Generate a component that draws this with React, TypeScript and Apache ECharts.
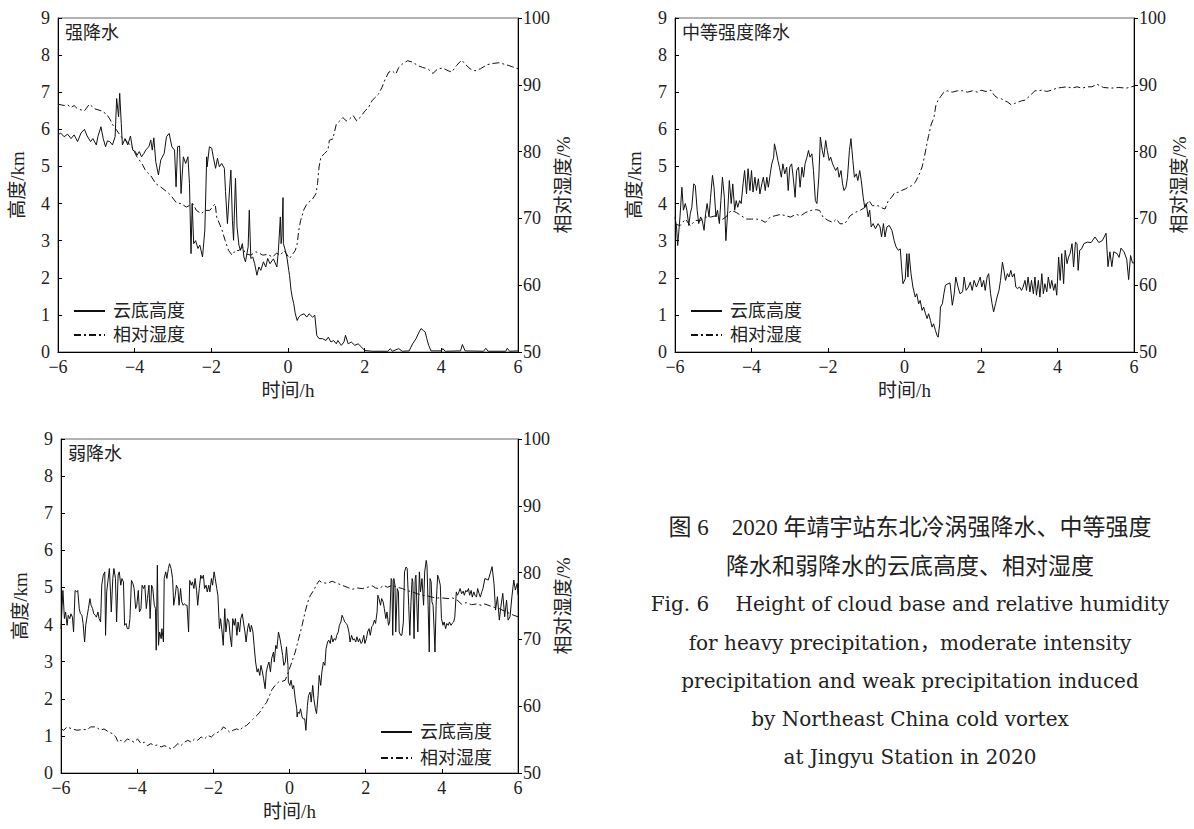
import React, { useEffect, useRef } from "react";
import * as echarts from "echarts";

// ---------- data (time in hours, value) ----------
const heavyCloud: number[][] = [
  [-6.0,5.85],[-5.93,5.9],[-5.84,5.8],[-5.75,5.87],[-5.66,5.75],[-5.58,5.85],[-5.49,5.67],[-5.40,5.9],[-5.31,6.0],[-5.24,5.82],[-5.15,5.67],[-5.09,5.75],[-5.0,5.58],[-4.96,5.8],[-4.88,6.07],[-4.82,5.75],[-4.76,5.53],[-4.71,5.69],[-4.65,5.67],[-4.58,5.58],[-4.51,5.8],[-4.47,6.83],[-4.42,6.34],[-4.39,6.97],[-4.35,6.16],[-4.32,5.58],[-4.25,5.75],[-4.18,5.58],[-4.11,5.82],[-4.05,5.44],[-3.98,5.4],[-3.94,5.3],[-3.88,5.4],[-3.82,5.26],[-3.76,5.35],[-3.70,5.46],[-3.63,5.53],[-3.58,5.71],[-3.54,5.44],[-3.50,5.77],[-3.45,5.13],[-3.38,4.77],[-3.32,5.17],[-3.23,5.35],[-3.17,5.8],[-3.10,5.89],[-3.03,5.53],[-2.96,5.44],[-2.92,4.45],[-2.88,5.53],[-2.83,5.55],[-2.79,4.27],[-2.73,5.26],[-2.67,5.08],[-2.61,5.26],[-2.57,4.54],[-2.53,2.65],[-2.50,4.0],[-2.46,2.92],[-2.41,3.0],[-2.35,2.79],[-2.30,2.88],[-2.23,2.56],[-2.17,3.28],[-2.12,5.26],[-2.11,4.99],[-2.05,5.53],[-1.99,5.49],[-1.95,5.26],[-1.89,4.95],[-1.84,5.22],[-1.79,4.99],[-1.73,5.08],[-1.66,4.95],[-1.63,4.32],[-1.58,3.46],[-1.52,4.45],[-1.49,4.9],[-1.45,3.55],[-1.42,3.01],[-1.37,4.68],[-1.33,3.37],[-1.28,2.88],[-1.24,2.74],[-1.19,2.92],[-1.15,2.56],[-1.11,2.43],[-1.04,2.83],[-1.01,3.82],[-0.97,2.52],[-0.92,2.56],[-0.87,2.38],[-0.81,2.07],[-0.76,2.29],[-0.71,2.2],[-0.64,2.43],[-0.58,2.29],[-0.53,2.52],[-0.47,2.38],[-0.38,2.51],[-0.29,2.29],[-0.25,2.74],[-0.2,3.64],[-0.18,2.92],[-0.16,3.1],[-0.13,4.16],[-0.12,2.92],[-0.07,2.74],[-0.03,2.56],[0.02,2.2],[0.04,2.06],[0.08,1.66],[0.11,1.48],[0.15,1.3],[0.19,1.03],[0.24,0.85],[0.28,0.94],[0.33,0.99],[0.42,1.03],[0.49,0.94],[0.55,1.03],[0.64,0.94],[0.70,0.99],[0.75,0.45],[0.81,0.36],[0.9,0.36],[0.99,0.31],[1.05,0.40],[1.12,0.27],[1.19,0.31],[1.26,0.22],[1.3,0.31],[1.39,0.18],[1.46,0.27],[1.5,0.45],[1.57,0.22],[1.65,0.27],[1.74,0.18],[1.83,0.22],[1.92,0.13],[2.0,0.04],[2.2,0.02],[2.4,0.02],[2.6,0.02],[2.67,0.09],[2.72,0.02],[2.89,0.09],[2.98,0.02],[3.16,0.03],[3.25,0.22],[3.34,0.36],[3.42,0.54],[3.47,0.63],[3.53,0.58],[3.58,0.54],[3.62,0.36],[3.67,0.18],[3.73,0.03],[4.0,0.03],[4.04,0.09],[4.1,0.02],[4.5,0.03],[4.55,0.2],[4.62,0.03],[5.1,0.02],[5.16,0.1],[5.22,0.02],[5.68,0.02],[5.72,0.1],[5.78,0.02],[6.0,0.03]
];
const heavyRH: number[][] = [
  [-6.0,87.1],[-5.84,86.9],[-5.75,87.0],[-5.66,86.6],[-5.58,86.9],[-5.49,86.4],[-5.31,86.1],[-5.18,87.1],[-5.04,86.4],[-4.87,86.1],[-4.73,85.6],[-4.65,84.9],[-4.56,83.9],[-4.47,83.2],[-4.35,82.2],[-4.2,81.5],[-4.07,80.7],[-3.94,79.2],[-3.81,78.2],[-3.72,77.2],[-3.58,76.4],[-3.45,75.2],[-3.32,74.7],[-3.14,73.9],[-3.05,73.4],[-2.92,72.4],[-2.79,72.2],[-2.65,71.7],[-2.48,72.2],[-2.39,71.2],[-2.26,70.7],[-2.17,71.2],[-2.04,71.2],[-1.9,72.2],[-1.86,70.2],[-1.73,68.4],[-1.64,66.7],[-1.55,65.2],[-1.46,64.5],[-1.37,65.2],[-1.28,65.2],[-1.19,65.7],[-1.11,64.7],[-0.97,64.5],[-0.84,65.0],[-0.75,64.8],[-0.66,64.5],[-0.53,64.6],[-0.4,64.2],[-0.3,64.8],[-0.2,64.5],[-0.1,65.2],[0.04,64.0],[0.19,65.2],[0.24,66.2],[0.28,68.2],[0.33,69.7],[0.42,71.4],[0.5,72.2],[0.64,72.9],[0.73,73.7],[0.77,75.2],[0.81,77.7],[0.86,79.2],[0.95,79.7],[1.04,80.2],[1.08,81.7],[1.17,81.9],[1.26,84.1],[1.35,84.6],[1.43,85.1],[1.52,84.6],[1.61,84.9],[1.70,85.4],[1.79,84.6],[1.88,85.1],[2.01,86.1],[2.1,86.6],[2.19,87.6],[2.27,88.1],[2.36,88.6],[2.45,89.6],[2.54,90.9],[2.63,91.9],[2.72,92.1],[2.81,91.6],[2.89,92.6],[2.98,93.1],[3.12,93.6],[3.25,93.4],[3.38,92.9],[3.51,92.6],[3.65,92.4],[3.78,91.7],[3.91,92.4],[4.04,92.5],[4.18,92.1],[4.27,91.9],[4.4,92.9],[4.53,93.7],[4.62,93.1],[4.75,92.4],[4.88,92.1],[5.02,92.4],[5.19,93.0],[5.35,93.2],[5.5,93.3],[5.7,93.0],[5.85,92.7],[6.0,92.4]
];
const moderateCloud: number[][] = [
  [-6.0,3.64],[-5.96,3.37],[-5.93,2.87],[-5.87,3.64],[-5.82,4.44],[-5.78,3.82],[-5.73,4.0],[-5.69,3.82],[-5.64,3.41],[-5.60,3.73],[-5.56,3.9],[-5.51,4.53],[-5.47,4.49],[-5.42,3.82],[-5.38,3.46],[-5.33,3.64],[-5.29,3.55],[-5.24,3.28],[-5.20,3.73],[-5.16,4.0],[-5.11,3.64],[-5.07,4.17],[-5.02,4.76],[-4.98,4.44],[-4.93,3.64],[-4.89,3.82],[-4.84,3.46],[-4.80,4.08],[-4.76,4.71],[-4.71,4.17],[-4.67,3.0],[-4.62,3.82],[-4.58,4.62],[-4.53,4.0],[-4.49,4.53],[-4.44,3.82],[-4.40,4.08],[-4.36,3.9],[-4.31,4.08],[-4.27,4.0],[-4.22,4.53],[-4.18,4.89],[-4.13,4.26],[-4.09,4.94],[-4.04,4.35],[-4.0,4.89],[-3.96,4.31],[-3.91,4.71],[-3.87,4.35],[-3.82,4.67],[-3.78,4.26],[-3.73,4.53],[-3.69,4.71],[-3.64,4.35],[-3.60,4.71],[-3.56,4.44],[-3.51,4.8],[-3.47,5.07],[-3.42,5.25],[-3.40,5.61],[-3.36,5.43],[-3.31,5.16],[-3.27,4.98],[-3.22,4.71],[-3.18,5.07],[-3.13,4.8],[-3.08,4.98],[-3.04,4.35],[-3.0,4.98],[-2.95,5.07],[-2.91,4.71],[-2.86,4.17],[-2.82,4.89],[-2.77,4.98],[-2.73,4.44],[-2.68,4.98],[-2.64,4.71],[-2.60,5.07],[-2.55,5.25],[-2.51,5.43],[-2.47,5.25],[-2.42,5.34],[-2.38,4.89],[-2.33,4.08],[-2.29,4.0],[-2.24,4.71],[-2.20,5.79],[-2.15,5.43],[-2.11,5.25],[-2.06,5.7],[-2.02,5.43],[-1.97,5.16],[-1.93,5.25],[-1.88,5.07],[-1.84,4.98],[-1.80,4.89],[-1.75,4.98],[-1.71,4.71],[-1.66,4.89],[-1.62,4.53],[-1.58,4.35],[-1.53,4.44],[-1.49,4.71],[-1.44,5.43],[-1.40,5.75],[-1.35,5.16],[-1.31,4.71],[-1.26,4.8],[-1.22,4.62],[-1.17,4.89],[-1.13,4.62],[-1.08,4.17],[-1.04,3.9],[-1.0,4.0],[-0.95,3.64],[-0.91,3.82],[-0.87,3.37],[-0.82,3.46],[-0.76,3.32],[-0.69,3.46],[-0.64,3.37],[-0.6,3.1],[-0.55,3.46],[-0.51,3.1],[-0.46,3.37],[-0.4,3.41],[-0.33,3.28],[-0.27,3.0],[-0.22,2.83],[-0.16,2.74],[-0.11,2.78],[-0.07,2.2],[-0.04,1.84],[0.02,1.97],[0.06,2.65],[0.09,2.02],[0.12,2.65],[0.17,2.11],[0.22,1.75],[0.28,1.48],[0.32,1.57],[0.37,1.3],[0.41,1.39],[0.46,1.12],[0.5,1.21],[0.55,1.03],[0.59,0.9],[0.63,1.03],[0.68,0.85],[0.72,0.67],[0.76,0.76],[0.81,0.58],[0.85,0.45],[0.88,0.4],[0.92,0.76],[0.94,1.21],[0.99,1.3],[1.03,1.57],[1.07,1.8],[1.14,1.84],[1.19,1.86],[1.25,1.26],[1.3,1.57],[1.34,2.02],[1.4,1.75],[1.45,1.57],[1.52,1.62],[1.56,2.02],[1.61,1.66],[1.67,1.75],[1.72,1.88],[1.77,1.66],[1.82,1.93],[1.88,1.75],[1.93,1.88],[1.98,2.02],[2.02,1.75],[2.07,1.93],[2.11,1.66],[2.16,2.02],[2.2,2.11],[2.25,1.57],[2.29,1.3],[2.33,1.08],[2.38,1.3],[2.42,1.48],[2.47,1.66],[2.51,1.93],[2.56,2.42],[2.6,2.2],[2.64,1.93],[2.69,2.11],[2.73,2.02],[2.78,2.2],[2.82,2.02],[2.87,2.11],[2.91,1.75],[2.95,1.71],[3.01,1.75],[3.06,1.66],[3.1,1.75],[3.15,1.93],[3.19,1.66],[3.23,2.02],[3.28,1.62],[3.32,1.93],[3.37,1.57],[3.41,2.02],[3.45,1.53],[3.5,1.93],[3.54,1.48],[3.59,2.11],[3.63,1.57],[3.67,1.84],[3.72,1.62],[3.76,2.02],[3.81,1.71],[3.85,1.93],[3.9,1.66],[3.94,1.84],[3.98,1.53],[4.03,2.56],[4.07,1.93],[4.11,2.65],[4.16,1.84],[4.2,2.74],[4.25,2.38],[4.29,2.56],[4.33,2.65],[4.38,2.92],[4.42,2.29],[4.47,2.96],[4.51,2.92],[4.54,2.2],[4.58,2.74],[4.63,2.78],[4.69,2.92],[4.78,2.96],[4.88,2.95],[4.98,3.1],[5.08,2.95],[5.17,3.0],[5.27,3.2],[5.32,2.3],[5.37,2.7],[5.42,2.3],[5.47,2.7],[5.56,2.65],[5.61,2.55],[5.66,2.8],[5.74,2.7],[5.81,2.5],[5.86,1.95],[5.91,2.6],[5.96,2.4],[6.0,2.4]
];
const moderateRH: number[][] = [
  [-6.0,69.2],[-5.87,68.9],[-5.73,69.9],[-5.6,68.9],[-5.47,69.7],[-5.33,69.7],[-5.2,70.2],[-5.07,70.2],[-4.93,70.4],[-4.8,69.7],[-4.67,70.2],[-4.53,71.2],[-4.4,70.9],[-4.27,70.4],[-4.13,69.9],[-4.0,69.9],[-3.87,69.9],[-3.73,69.7],[-3.64,69.4],[-3.51,70.2],[-3.38,70.4],[-3.24,70.6],[-3.11,70.4],[-2.98,70.2],[-2.84,70.6],[-2.71,70.4],[-2.58,70.9],[-2.44,71.2],[-2.31,71.3],[-2.22,71.2],[-2.13,70.2],[-2.0,69.7],[-1.87,69.4],[-1.78,69.9],[-1.69,69.2],[-1.56,69.2],[-1.42,70.4],[-1.29,70.9],[-1.16,71.2],[-1.02,71.7],[-0.93,72.7],[-0.84,71.9],[-0.69,71.9],[-0.6,71.6],[-0.51,71.4],[-0.42,72.7],[-0.33,73.2],[-0.25,73.9],[-0.16,73.9],[-0.07,74.2],[0.02,74.4],[0.11,74.7],[0.19,74.9],[0.28,75.4],[0.37,76.4],[0.46,77.7],[0.52,79.2],[0.57,80.7],[0.63,82.4],[0.7,84.1],[0.77,85.1],[0.82,86.9],[0.87,87.6],[0.94,88.2],[1.03,88.9],[1.12,89.1],[1.25,88.9],[1.38,89.1],[1.52,89.1],[1.65,88.9],[1.78,89.1],[1.91,88.9],[2.0,89.2],[2.13,89.0],[2.26,89.2],[2.35,88.4],[2.44,88.0],[2.53,87.9],[2.62,87.6],[2.7,87.4],[2.79,87.0],[2.88,87.2],[2.97,87.4],[3.06,87.6],[3.15,87.7],[3.23,88.1],[3.32,88.6],[3.41,89.1],[3.5,89.1],[3.59,89.2],[3.72,89.0],[3.85,89.2],[3.98,89.5],[4.11,89.6],[4.25,89.7],[4.38,89.5],[4.51,89.7],[4.64,89.5],[4.78,89.7],[4.9,89.7],[5.03,90.1],[5.2,89.6],[5.4,89.5],[5.6,89.6],[5.8,89.5],[6.0,89.8]
];
const weakCloud: number[][] = [
  [-6,3.89],[-5.97,4.52],[-5.95,4.92],[-5.91,4.16],[-5.88,4.34],[-5.84,3.98],[-5.81,4.25],[-5.77,4.16],[-5.74,4.29],[-5.7,4.2],[-5.67,3.8],[-5.63,4.92],[-5.59,4.88],[-5.56,4.92],[-5.52,4.43],[-5.49,4.29],[-5.45,4.25],[-5.42,4.03],[-5.38,3.53],[-5.35,3.98],[-5.31,4.25],[-5.28,4.43],[-5.24,4.7],[-5.21,4.52],[-5.17,4.43],[-5.14,4.29],[-5.10,4.25],[-5.07,4.2],[-5.03,4.34],[-5.0,4.16],[-4.96,4.07],[-4.93,5.06],[-4.89,5.33],[-4.85,5.42],[-4.83,3.71],[-4.80,4.88],[-4.77,5.15],[-4.73,5.51],[-4.70,4.88],[-4.68,4.34],[-4.64,5.24],[-4.61,5.51],[-4.57,5.24],[-4.54,4.07],[-4.50,5.33],[-4.47,5.42],[-4.43,5.06],[-4.40,5.24],[-4.36,5.15],[-4.33,3.98],[-4.29,4.03],[-4.26,3.89],[-4.22,3.89],[-4.19,4.16],[-4.15,5.19],[-4.11,5.1],[-4.08,4.97],[-4.04,4.43],[-4.01,4.52],[-3.97,4.92],[-3.94,4.34],[-3.90,4.43],[-3.87,5.06],[-3.83,4.97],[-3.80,5.06],[-3.76,4.43],[-3.73,4.7],[-3.69,5.06],[-3.66,4.16],[-3.62,5.06],[-3.59,4.97],[-3.55,4.52],[-3.52,4.43],[-3.50,3.31],[-3.47,5.6],[-3.44,3.44],[-3.41,3.8],[-3.37,3.62],[-3.35,3.89],[-3.31,3.53],[-3.29,5.24],[-3.25,5.42],[-3.22,5.24],[-3.18,5.51],[-3.15,5.64],[-3.11,5.51],[-3.07,5.24],[-3.04,4.52],[-3.0,4.79],[-2.97,5.06],[-2.93,4.97],[-2.90,4.52],[-2.86,4.97],[-2.83,4.61],[-2.79,4.52],[-2.76,4.56],[-2.72,4.52],[-2.69,4.52],[-2.65,3.8],[-2.62,5.19],[-2.58,5.06],[-2.55,5.15],[-2.51,4.97],[-2.48,5.24],[-2.44,4.92],[-2.41,4.52],[-2.37,4.97],[-2.33,5.33],[-2.30,5.24],[-2.26,5.33],[-2.23,4.97],[-2.19,5.06],[-2.16,4.88],[-2.12,5.06],[-2.09,4.88],[-2.05,5.24],[-2.02,5.06],[-1.98,5.42],[-1.95,5.24],[-1.91,4.97],[-1.88,4.79],[-1.84,3.89],[-1.81,4.16],[-1.77,3.8],[-1.74,3.44],[-1.70,4.43],[-1.67,3.8],[-1.63,4.16],[-1.59,4.07],[-1.56,3.71],[-1.52,3.4],[-1.49,4.16],[-1.45,3.98],[-1.42,4.16],[-1.38,3.71],[-1.35,4.07],[-1.31,3.8],[-1.28,4.16],[-1.24,4.29],[-1.21,4.07],[-1.17,3.8],[-1.14,3.53],[-1.10,3.89],[-1.07,4.03],[-1.03,3.8],[-1.0,3.98],[-0.96,3.8],[-0.93,3.44],[-0.89,2.99],[-0.85,2.72],[-0.82,2.81],[-0.78,2.63],[-0.75,2.9],[-0.71,2.72],[-0.68,2.54],[-0.64,2.27],[-0.61,2.72],[-0.57,2.9],[-0.54,2.99],[-0.5,2.72],[-0.47,3.08],[-0.42,3.26],[-0.4,2.99],[-0.36,3.44],[-0.33,3.35],[-0.29,3.8],[-0.25,3.62],[-0.22,3.44],[-0.18,3.17],[-0.15,2.9],[-0.11,2.99],[-0.08,3.4],[-0.04,2.9],[-0.03,2.45],[0.01,2.36],[0.04,2.5],[0.08,2.27],[0.11,2.36],[0.15,2.0],[0.19,1.73],[0.2,1.51],[0.22,1.64],[0.26,1.6],[0.29,1.73],[0.33,1.51],[0.36,1.46],[0.40,1.46],[0.43,1.15],[0.47,1.82],[0.5,2.09],[0.54,2.18],[0.57,1.91],[0.61,2.36],[0.64,2.0],[0.68,1.73],[0.71,1.6],[0.75,2.09],[0.78,2.63],[0.82,2.36],[0.85,2.72],[0.89,2.99],[0.93,2.9],[0.96,3.35],[1.0,3.53],[1.03,3.58],[1.07,3.49],[1.1,3.71],[1.14,3.53],[1.17,3.62],[1.21,3.58],[1.24,3.71],[1.28,3.8],[1.31,3.98],[1.35,4.07],[1.38,4.25],[1.42,4.16],[1.45,4.07],[1.49,4.03],[1.52,3.98],[1.56,3.8],[1.59,3.53],[1.63,3.71],[1.67,3.58],[1.7,3.62],[1.74,3.53],[1.77,3.67],[1.81,3.53],[1.84,3.62],[1.88,3.49],[1.91,3.53],[1.95,3.71],[1.98,3.49],[2.02,3.62],[2.05,3.8],[2.09,3.89],[2.12,3.71],[2.16,3.94],[2.19,3.98],[2.23,4.12],[2.26,4.03],[2.3,4.34],[2.32,4.79],[2.35,4.7],[2.39,4.52],[2.42,4.7],[2.46,4.61],[2.49,4.43],[2.53,4.16],[2.56,4.34],[2.6,3.98],[2.63,4.07],[2.67,5.24],[2.69,5.19],[2.71,3.71],[2.74,5.24],[2.77,5.06],[2.79,3.8],[2.83,4.97],[2.86,4.88],[2.88,3.8],[2.92,3.71],[2.95,3.71],[2.99,4.07],[3.02,5.42],[3.06,5.55],[3.09,5.51],[3.13,4.52],[3.16,3.71],[3.19,4.61],[3.22,5.24],[3.24,5.15],[3.27,3.62],[3.3,5.24],[3.32,5.33],[3.35,4.34],[3.37,3.8],[3.41,5.42],[3.44,4.88],[3.48,5.24],[3.52,4.52],[3.55,5.42],[3.59,5.73],[3.61,5.6],[3.64,4.52],[3.67,3.26],[3.69,5.24],[3.72,5.15],[3.74,4.61],[3.77,4.52],[3.8,3.8],[3.82,3.26],[3.85,4.52],[3.89,5.33],[3.92,5.24],[3.96,5.06],[3.99,4.16],[4.03,3.98],[4.06,4.07],[4.1,3.89],[4.13,4.03],[4.17,3.98],[4.2,4.07],[4.24,3.98],[4.27,4.03],[4.31,4.07],[4.34,4.2],[4.38,4.88],[4.41,4.79],[4.45,4.88],[4.48,4.97],[4.52,4.83],[4.56,4.9],[4.59,4.79],[4.63,4.92],[4.66,4.88],[4.7,4.97],[4.73,4.79],[4.77,4.92],[4.8,4.74],[4.84,4.88],[4.87,4.79],[4.91,4.74],[4.94,4.97],[4.98,4.83],[5.01,4.74],[5.05,4.88],[5.08,4.97],[5.13,5.24],[5.22,5.2],[5.32,5.56],[5.37,5.1],[5.41,4.39],[5.46,4.75],[5.51,4.12],[5.55,4.48],[5.6,4.84],[5.65,4.21],[5.7,4.66],[5.74,4.12],[5.79,4.21],[5.84,4.75],[5.89,5.2],[5.93,4.93],[5.98,5.11],[6.0,4.8]
];
const weakRH: number[][] = [
  [-6,56.6],[-5.93,56.4],[-5.84,56.9],[-5.71,56.6],[-5.58,56.4],[-5.44,56.5],[-5.31,56.5],[-5.22,56.9],[-5.09,56.9],[-4.96,56.4],[-4.87,56.6],[-4.74,56.1],[-4.65,55.9],[-4.56,55.4],[-4.5,54.6],[-4.43,54.9],[-4.34,54.6],[-4.26,55.1],[-4.17,54.9],[-4.08,54.6],[-3.99,55.1],[-3.9,54.4],[-3.81,54.6],[-3.73,54.1],[-3.64,54.4],[-3.55,54.1],[-3.46,54.2],[-3.37,53.9],[-3.29,54.1],[-3.2,53.9],[-3.11,53.6],[-3.02,53.9],[-2.93,54.4],[-2.85,54.1],[-2.76,54.6],[-2.67,54.9],[-2.58,54.6],[-2.49,55.1],[-2.41,54.9],[-2.32,55.4],[-2.23,55.1],[-2.14,55.6],[-2.05,55.4],[-1.96,55.9],[-1.88,56.1],[-1.79,56.4],[-1.74,56.9],[-1.66,56.6],[-1.57,56.1],[-1.48,56.4],[-1.39,56.6],[-1.3,56.4],[-1.22,56.9],[-1.13,57.1],[-1.04,57.6],[-0.95,58.1],[-0.86,58.6],[-0.78,59.1],[-0.69,59.9],[-0.6,60.6],[-0.51,61.8],[-0.47,62.4],[-0.38,63.1],[-0.29,63.6],[-0.2,63.7],[-0.11,63.9],[-0.03,65.1],[0.06,66.6],[0.15,68.1],[0.24,70.1],[0.33,72.1],[0.41,74.1],[0.48,75.6],[0.55,76.6],[0.63,77.3],[0.72,78.3],[0.78,78.8],[0.85,78.5],[0.99,78.4],[1.12,78.7],[1.25,78.4],[1.38,78.1],[1.52,77.8],[1.65,77.5],[1.78,77.7],[1.91,77.6],[2.04,77.8],[2.18,78.0],[2.26,77.7],[2.35,77.6],[2.48,78.1],[2.57,77.8],[2.7,78.1],[2.84,77.8],[2.97,77.6],[3.1,77.3],[3.23,77.1],[3.37,76.8],[3.5,76.6],[3.63,76.5],[3.76,76.3],[3.89,76.2],[4.03,76.2],[4.16,76.1],[4.29,76.2],[4.42,75.8],[4.51,75.3],[4.64,75.5],[4.78,75.2],[4.91,75.3],[5.04,75.1],[5.13,75.3],[5.32,74.9],[5.51,74.6],[5.7,74.1],[5.89,73.6],[6.0,73.4]
];

const panelTitles = ["强降水", "中等强度降水", "弱降水"];
const seriesNames = ["云底高度", "相对湿度"];
const xAxisName = "时间/h";
const leftAxisName = "高度/km";
const rightAxisName = "相对湿度/%";
const captionLines = [
  "图 6　2020 年靖宇站东北冷涡强降水、中等强度",
  "降水和弱降水的云底高度、相对湿度",
  "Fig. 6　 Height of cloud base and relative humidity",
  "for heavy precipitation，moderate intensity",
  "precipitation and weak precipitation induced",
  "by Northeast China cold vortex",
  "at Jingyu Station in 2020",
];

const FONT = "Liberation Serif, Noto Sans CJK SC, serif";
const CAPEN = "DejaVu Serif, Liberation Serif, Noto Sans CJK SC, serif";

const layout = [
  { grid: { left: 58, top: 18, width: 460, height: 334 }, legend: { left: 73, top: 302, gap: 6 }, cloud: heavyCloud, rh: heavyRH },
  { grid: { left: 675, top: 18, width: 459, height: 334 }, legend: { left: 690, top: 302, gap: 6 }, cloud: moderateCloud, rh: moderateRH },
  { grid: { left: 61, top: 439, width: 457, height: 334 }, legend: { left: 380, top: 723, gap: 8 }, cloud: weakCloud, rh: weakRH },
];

const minus = (v: number) => String(v).replace("-", "−");

export default function App() {
  const ref = useRef<HTMLDivElement>(null);
  useEffect(() => {
    document.body.style.margin = "0";
    if (!ref.current) return;
    const chart = echarts.init(ref.current, undefined, { renderer: "svg" });
    const grids: any[] = [];
    const xAxes: any[] = [];
    const yAxes: any[] = [];
    const series: any[] = [];
    const legends: any[] = [];
    const graphics: any[] = [];
    const txt = { color: "#222", fontSize: 18, fontFamily: FONT };
    layout.forEach((p, i) => {
      grids.push({ ...p.grid, show: true, borderColor: "#666", borderWidth: 1, backgroundColor: "transparent" });
      xAxes.push({
        type: "value", gridIndex: i, min: -6, max: 6, interval: 2,
        axisLine: { onZero: false, lineStyle: { color: "#000", width: 1 } },
        axisTick: { inside: true, length: 4, lineStyle: { color: "#000" } },
        splitLine: { show: false },
        axisLabel: { formatter: minus, ...txt, margin: 6 },
        name: xAxisName, nameLocation: "middle", nameGap: 29,
        nameTextStyle: { ...txt, fontSize: 19 },
      });
      yAxes.push({
        type: "value", gridIndex: i, min: 0, max: 9, interval: 1, position: "left",
        axisLine: { show: true, onZero: false, lineStyle: { color: "#000", width: 1 } },
        axisTick: { show: true, inside: true, length: 4, lineStyle: { color: "#000" } },
        splitLine: { show: false },
        axisLabel: { ...txt, margin: 8 },
        name: leftAxisName, nameLocation: "middle", nameRotate: 90, nameGap: 31,
        nameTextStyle: { ...txt, fontSize: 19 },
      });
      yAxes.push({
        type: "value", gridIndex: i, min: 50, max: 100, interval: 10, position: "right",
        axisLine: { show: true, onZero: false, lineStyle: { color: "#000", width: 1 } },
        axisTick: { show: true, inside: false, length: 4, lineStyle: { color: "#000" } },
        splitLine: { show: false },
        axisLabel: { ...txt, margin: 5 },
        name: rightAxisName, nameLocation: "middle", nameRotate: 90, nameGap: 35,
        nameTextStyle: { ...txt, fontSize: 19 },
      });
      series.push({
        type: "line", name: seriesNames[0], xAxisIndex: i, yAxisIndex: 2 * i, data: p.cloud,
        symbol: "none", showSymbol: false, lineStyle: { color: "#111", width: 1 }, itemStyle: { color: "#111" },
      });
      series.push({
        type: "line", name: seriesNames[1], xAxisIndex: i, yAxisIndex: 2 * i + 1, data: p.rh,
        symbol: "none", showSymbol: false, lineStyle: { color: "#111", width: 1, type: [7, 3, 2, 3] }, itemStyle: { color: "#111" },
      });
      legends.push({
        data: seriesNames, orient: "vertical", left: p.legend.left, top: p.legend.top,
        itemWidth: 31, itemHeight: 14, itemGap: p.legend.gap, selectedMode: false, padding: 0,
        itemStyle: { opacity: 0, color: "transparent", borderWidth: 0 },
        textStyle: { color: "#222", fontSize: 18, fontFamily: FONT, padding: [0, 0, 0, 3] },
      });
      graphics.push({
        type: "text", x: p.grid.left + 7, y: p.grid.top + 15,
        style: { text: panelTitles[i], font: `18px ${FONT}`, fill: "#222", verticalAlign: "middle" },
      });
    });
    const capY = [527, 566, 604, 643, 681, 719, 757];
    captionLines.forEach((t, k) => {
      graphics.push({
        type: "text", x: 910, y: capY[k],
        style: { text: t, font: k < 2 ? `23px ${FONT}` : `20px ${CAPEN}`, fill: "#222", align: "center", verticalAlign: "middle" },
      });
    });
    chart.setOption({
      animation: false,
      backgroundColor: "#fff",
      grid: grids, xAxis: xAxes, yAxis: yAxes, series, legend: legends, graphic: graphics,
    });
    return () => chart.dispose();
  }, []);
  return <div ref={ref} style={{ width: 1194, height: 829 }} />;
}
